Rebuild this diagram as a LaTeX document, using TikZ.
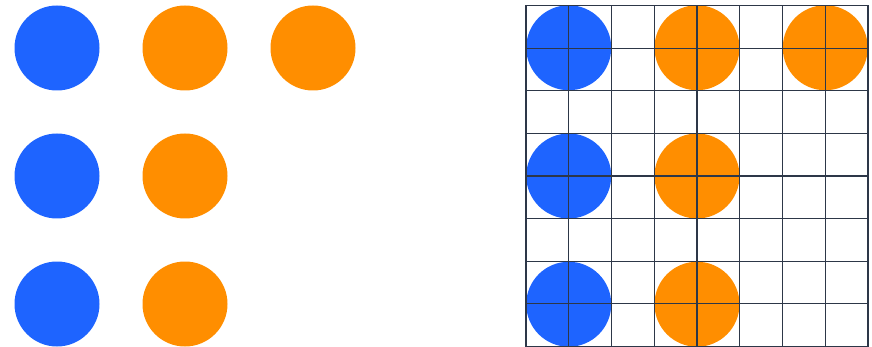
\documentclass[tikz,border=0pt]{standalone}
\definecolor{dotblue}{RGB}{30,100,255}
\definecolor{dotorange}{RGB}{255,142,0}
\definecolor{gridline}{RGB}{45,55,72}
\begin{document}
\begin{tikzpicture}[x=1pt,y=-1pt,
  dot/.style={circle,minimum size=85pt,inner sep=0pt,draw=none},
  bluedot/.style={dot,fill=dotblue},
  orangedot/.style={dot,fill=dotorange},
  gridln/.style={draw=gridline,line width=1.1pt}]
\useasboundingbox (0,0) rectangle (872,347);
% left pattern
\node[bluedot] (l11) at (57,48) {};
\node[orangedot] (l12) at (185,48) {};
\node[orangedot] (l13) at (313,48) {};
\node[bluedot] (l21) at (57,176) {};
\node[orangedot] (l22) at (185,176) {};
\node[bluedot] (l31) at (57,304) {};
\node[orangedot] (l32) at (185,304) {};
% right pattern on grid
\node[bluedot] (r11) at (568.75,47.75) {};
\node[orangedot] (r12) at (697,47.75) {};
\node[orangedot] (r13) at (825.25,47.75) {};
\node[bluedot] (r21) at (568.75,176) {};
\node[orangedot] (r22) at (697,176) {};
\node[bluedot] (r31) at (568.75,304.25) {};
\node[orangedot] (r32) at (697,304.25) {};
\foreach \i in {0,...,8}{
  \draw[gridln] ({526+\i*42.75},5.5) -- ({526+\i*42.75},346.5);
  \draw[gridln] (526,{5.5+\i*42.625}) -- (868,{5.5+\i*42.625});
}
\end{tikzpicture}
\end{document}
